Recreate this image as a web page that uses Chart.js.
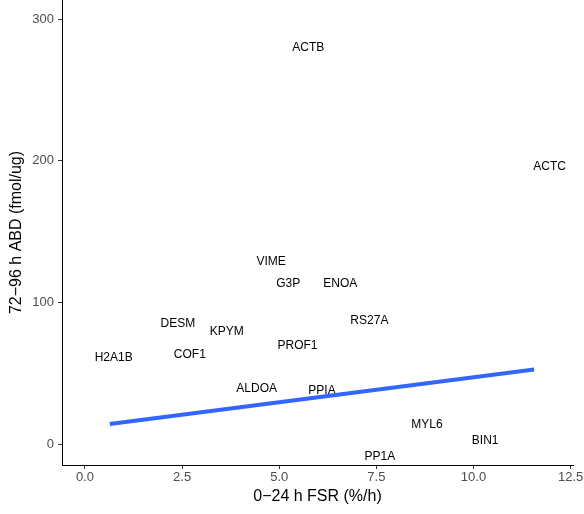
<!DOCTYPE html>
<html>
<head>
<meta charset="utf-8">
<script src="https://cdn.jsdelivr.net/npm/chart.js@4"></script>
<style>
  html, body { margin: 0; padding: 0; background: #fff; }
  canvas { display: block; }
</style>
</head>
<body>
<canvas id="chart" width="584" height="514"></canvas>
<script>
// Protein labels with their synthesis rate (x) and abundance (y)
const genes = ['ACTB', 'ACTC', 'VIME', 'G3P', 'ENOA', 'RS27A', 'DESM', 'KPYM',
               'PROF1', 'H2A1B', 'COF1', 'ALDOA', 'PPIA', 'MYL6', 'BIN1', 'PP1A'];
const fsr = [5.75, 11.96, 4.79, 5.23, 6.57, 7.32, 2.39, 3.65,
             5.47, 0.74, 2.70, 4.42, 6.10, 8.80, 10.30, 7.59];
const abd = [279.5, 196, 129.1, 113.3, 113.3, 87.4, 85, 79.4,
             69.7, 61.5, 63.1, 39.8, 37.9, 13.9, 2.6, -8.5];

// Linear fit line (ends)
const fitX = [0.64, 11.56];
const fitY = [14.6, 53.0];

// Axis ticks
const xTicks = [0, 2.5, 5, 7.5, 10, 12.5];
const xTickLabels = ['0.0', '2.5', '5.0', '7.5', '10.0', '12.5'];
const yTicks = [0, 100, 200, 300];
const yTickLabels = ['0', '100', '200', '300'];

const FONT = "'Liberation Sans', Arial, Helvetica, sans-serif";

// Draws each gene name centred on its point (under the fit line, like ggplot)
const textLabels = {
    id: 'textLabels',
    beforeDatasetsDraw(chart) {
        const ctx = chart.ctx;
        const xs = chart.scales.x;
        const ys = chart.scales.y;
        ctx.save();
        ctx.font = '12px ' + FONT;
        ctx.fillStyle = '#000';
        ctx.textAlign = 'center';
        ctx.textBaseline = 'middle';
        genes.forEach((g, i) => {
            ctx.fillText(g, xs.getPixelForValue(fsr[i]), ys.getPixelForValue(abd[i]));
        });
        ctx.restore();
    }
};

new Chart(document.getElementById('chart'), {
    type: 'scatter',
    data: {
        datasets: [
            {
                label: 'genes',
                data: fsr.map((v, i) => ({ x: v, y: abd[i] })),
                pointRadius: 0,
                pointHoverRadius: 0
            },
            {
                type: 'line',
                label: 'fit',
                data: fitX.map((v, i) => ({ x: v, y: fitY[i] })),
                borderColor: '#3366FF',
                borderWidth: 4,
                pointRadius: 0,
                fill: false
            }
        ]
    },
    options: {
        responsive: false,
        animation: false,
        events: [],
        layout: { padding: { top: 0, right: 11, bottom: 0, left: 0 } },
        plugins: {
            legend: { display: false },
            tooltip: { enabled: false }
        },
        scales: {
            x: {
                type: 'linear',
                min: -0.59,
                max: 12.56,
                afterBuildTicks: s => { s.ticks = xTicks.map(v => ({ value: v })); },
                afterFit: s => {
                    s.height = 49;
                    s.paddingLeft = 0;
                    s.paddingRight = 0;
                },
                grid: { drawOnChartArea: false, tickLength: 4, tickColor: '#333333', tickWidth: 1 },
                border: { color: '#000', width: 1 },
                ticks: {
                    autoSkip: false,
                    maxRotation: 0,
                    padding: 1,
                    color: '#4D4D4D',
                    font: { family: FONT, size: 13 },
                    callback: (v, i) => xTickLabels[i]
                },
                title: {
                    display: true,
                    text: '0\u221224 h FSR (%/h)',
                    color: '#000',
                    font: { family: FONT, size: 16 },
                    padding: { top: 0, bottom: 8 }
                }
            },
            y: {
                type: 'linear',
                min: -14.3,
                max: 313.4,
                afterBuildTicks: s => { s.ticks = yTicks.map(v => ({ value: v })); },
                afterFit: s => {
                    s.width = 62;
                    s.paddingTop = 0;
                    s.paddingBottom = 0;
                },
                grid: { drawOnChartArea: false, tickLength: 4, tickColor: '#333333', tickWidth: 1 },
                border: { color: '#000', width: 1 },
                ticks: {
                    autoSkip: false,
                    padding: 4,
                    color: '#4D4D4D',
                    font: { family: FONT, size: 13 },
                    callback: (v, i) => yTickLabels[i]
                },
                title: {
                    display: true,
                    text: '72\u221296 h ABD (fmol/ug)',
                    color: '#000',
                    font: { family: FONT, size: 16 },
                    padding: { top: 7, bottom: 0 }
                }
            }
        }
    },
    plugins: [textLabels]
});
</script>
</body>
</html>
